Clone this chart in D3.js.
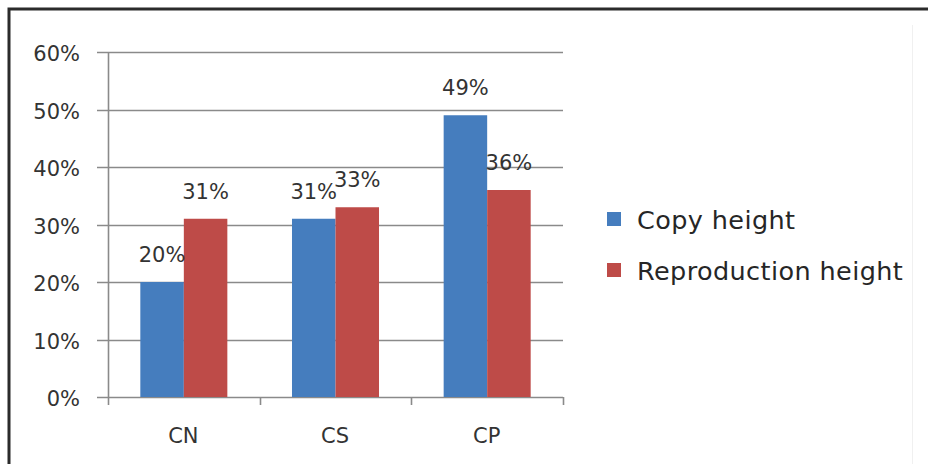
<!DOCTYPE html>
<html>
<head>
<meta charset="utf-8">
<script src="https://cdn.jsdelivr.net/npm/d3@7"></script>
<style>
  html, body { margin: 0; padding: 0; background: #ffffff; }
  svg { display: block; }
  text { font-family: "DejaVu Sans", sans-serif; fill: #333333; }
</style>
</head>
<body>
<svg id="chart" width="928" height="464"></svg>
<script>
// Categories, series and values
const categories = ["CN", "CS", "CP"];
const seriesNames = ["Copy height", "Reproduction height"];
const copyHeight = [0.20, 0.31, 0.49];
const reproductionHeight = [0.31, 0.33, 0.36];
const yTicks = [0, 0.1, 0.2, 0.3, 0.4, 0.5, 0.6];
const seriesColors = ["#457DBE", "#BE4B48"];

const seriesValues = [copyHeight, reproductionHeight];
const rows = categories.map((c, i) => ({
  category: c,
  values: seriesNames.map((s, j) => ({ series: s, value: seriesValues[j][i], idx: j }))
}));

const svg = d3.select("#chart");

// Outer frame (top and left edges visible)
svg.append("path")
  .attr("d", "M9,470 L9,9 L940,9")
  .attr("fill", "none")
  .attr("stroke", "#2b2b2b")
  .attr("stroke-width", 3);

// Faint right-hand edge of the chart area
svg.append("line")
  .attr("x1", 912.5).attr("x2", 912.5)
  .attr("y1", 25).attr("y2", 464)
  .attr("stroke", "#f0f0f0").attr("stroke-width", 1);

const plot = { left: 108, right: 563, top: 52, bottom: 397 };

const x0 = d3.scaleBand()
  .domain(categories)
  .range([plot.left, plot.right])
  .paddingInner(0).paddingOuter(0);

const x1 = d3.scaleBand()
  .domain(seriesNames)
  .range([0, x0.bandwidth()])
  .paddingInner(0).paddingOuter(0.743);

const y = d3.scaleLinear()
  .domain([0, 0.6])
  .range([plot.bottom, plot.top]);

const gridColor = "#8a8a8a";

// Horizontal gridlines with left tick stubs
svg.append("g")
  .selectAll("line")
  .data(yTicks)
  .join("line")
  .attr("x1", plot.left - 11)
  .attr("x2", plot.right)
  .attr("y1", d => Math.round(y(d)) + 0.5)
  .attr("y2", d => Math.round(y(d)) + 0.5)
  .attr("stroke", gridColor)
  .attr("stroke-width", 1.6);

// Y axis labels
svg.append("g")
  .selectAll("text")
  .data(yTicks)
  .join("text")
  .attr("x", plot.left - 28)
  .attr("y", d => y(d) + 3)
  .attr("text-anchor", "end")
  .attr("dominant-baseline", "middle")
  .attr("font-size", 21)
  .text(d3.format(".0%"));

// Bars
const groups = svg.append("g")
  .selectAll("g")
  .data(rows)
  .join("g")
  .attr("transform", d => `translate(${x0(d.category)},0)`);

groups.selectAll("rect")
  .data(d => d.values)
  .join("rect")
  .attr("x", d => x1(d.series))
  .attr("width", x1.bandwidth())
  .attr("y", d => y(d.value))
  .attr("height", d => y(0) - y(d.value))
  .attr("fill", d => seriesColors[d.idx]);

// Vertical axis line and category ticks
svg.append("line")
  .attr("x1", plot.left + 0.5).attr("x2", plot.left + 0.5)
  .attr("y1", plot.top).attr("y2", plot.bottom + 8)
  .attr("stroke", gridColor).attr("stroke-width", 1.6);

const boundaries = categories.map(c => x0(c)).concat([x0(categories[categories.length - 1]) + x0.bandwidth()]);
svg.append("g")
  .selectAll("line")
  .data(boundaries.slice(1))
  .join("line")
  .attr("x1", d => Math.round(d) + 0.5)
  .attr("x2", d => Math.round(d) + 0.5)
  .attr("y1", plot.bottom)
  .attr("y2", plot.bottom + 8)
  .attr("stroke", gridColor).attr("stroke-width", 1.6);

// Category labels
svg.append("g")
  .selectAll("text")
  .data(categories)
  .join("text")
  .attr("x", d => x0(d) + x0.bandwidth() / 2 - 0.5)
  .attr("y", 443)
  .attr("text-anchor", "middle")
  .attr("font-size", 21)
  .text(d => d);

// Value labels above bars
groups.selectAll("text")
  .data(d => d.values)
  .join("text")
  .attr("x", d => x1(d.series) + x1.bandwidth() / 2)
  .attr("y", d => y(d.value) - 20)
  .attr("text-anchor", "middle")
  .attr("font-size", 21)
  .text(d => d3.format(".0%")(d.value));

// Legend
const legend = svg.append("g")
  .selectAll("g")
  .data(seriesNames)
  .join("g")
  .attr("transform", (d, i) => `translate(607,${212 + i * 51})`);

legend.append("rect")
  .attr("width", 14).attr("height", 14)
  .attr("fill", (d, i) => seriesColors[i]);

legend.append("text")
  .attr("x", 30)
  .attr("y", 17)
  .attr("font-size", 25.5)
  .attr("letter-spacing", 0.4)
  .style("fill", "#262626")
  .text(d => d);
</script>
</body>
</html>
